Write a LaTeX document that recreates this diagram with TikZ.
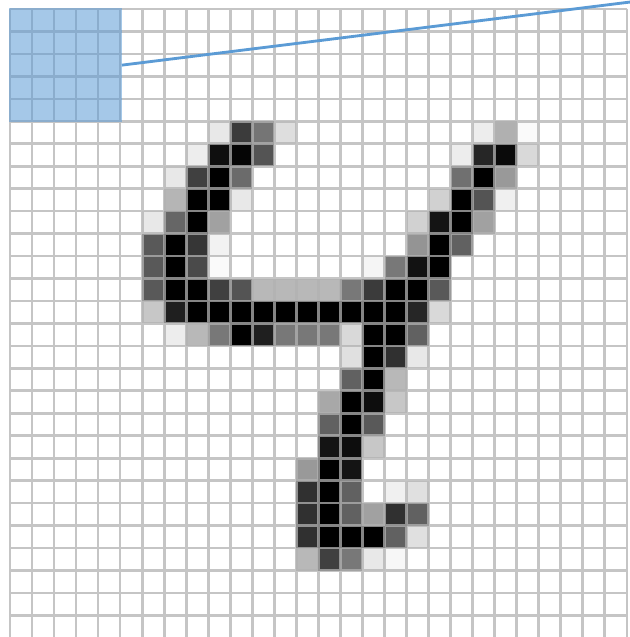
\documentclass[tikz,border=0pt]{standalone}
\usepackage{tikz}
\usepackage{xcolor}
\definecolor{fieldblue}{RGB}{91,155,213}
\definecolor{gridgray}{RGB}{178,178,178}

\begin{document}
\begin{tikzpicture}[>=latex, x=0.6609cm, y=-0.6738cm]
    \useasboundingbox (-0.4539,-0.4007) rectangle (28.143,27.961);

    % Pixels of the digit (column/row/percent black)
    \foreach \c/\r/\k in {9/5/9, 10/5/77, 11/5/54, 12/5/13, 21/5/7, 22/5/31, 23/5/2,
        8/6/7, 9/6/94, 10/6/98, 11/6/67, 20/6/7, 21/6/85, 22/6/96, 23/6/15,
        7/7/9, 8/7/75, 9/7/100, 10/7/58, 20/7/56, 21/7/100, 22/7/40,
        7/8/29, 8/8/100, 9/8/100, 10/8/9, 19/8/18, 20/8/100, 21/8/67, 22/8/6,
        6/9/9, 7/9/60, 8/9/100, 9/9/37, 18/9/18, 19/9/92, 20/9/100, 21/9/37,
        6/10/65, 7/10/100, 8/10/79, 9/10/5, 18/10/42, 19/10/100, 20/10/62,
        6/11/65, 7/11/100, 8/11/71, 9/11/2, 16/11/4, 17/11/53, 18/11/93, 19/11/100,
        6/12/65, 7/12/100, 8/12/100, 9/12/75, 10/12/67, 11/12/28, 12/12/28, 13/12/28,
        14/12/28, 15/12/53, 16/12/77, 17/12/100, 18/12/100, 19/12/65,
        6/13/22, 7/13/88, 8/13/100, 9/13/100, 10/13/100, 11/13/100, 12/13/100, 13/13/100,
        14/13/100, 15/13/100, 16/13/100, 17/13/100, 18/13/85, 19/13/15,
        7/14/7, 8/14/28, 9/14/53, 10/14/100, 11/14/88, 12/14/53, 13/14/53, 14/14/53,
        15/14/15, 16/14/100, 17/14/100, 18/14/62,
        15/15/12, 16/15/100, 17/15/81, 18/15/9,
        15/16/62, 16/16/100, 17/16/28,
        14/17/34, 15/17/100, 16/17/95, 17/17/22,
        14/18/62, 15/18/100, 16/18/65,
        14/19/92, 15/19/95, 16/19/22,
        13/20/40, 14/20/100, 15/20/92,
        13/21/81, 14/21/100, 15/21/62, 17/21/6, 18/21/12,
        13/22/81, 14/22/100, 15/22/62, 16/22/37, 17/22/81, 18/22/62,
        13/23/81, 14/23/100, 15/23/100, 16/23/100, 17/23/62, 18/23/12,
        13/24/28, 14/24/75, 15/24/53, 16/24/9, 17/24/3}
        \fill[black!\k] (\c,\r) rectangle ++(1,1);

    % 28x28 grid
    \draw[gridgray, line width=0.08cm, opacity=0.75]
        \foreach \i in {0,...,28} {(\i,0) -- (\i,28) (0,\i) -- (28,\i)};

    % Receptive field and its connection
    \node[fill=fieldblue, fill opacity=0.55, minimum width=3.39cm, minimum height=3.40cm, inner sep=0pt] (field) at (2.5,2.5) {};
    \coordinate (neuron) at (28.6,-0.365);
    \draw[fieldblue, line width=0.085cm] (field.east) -- (neuron);
\end{tikzpicture}
\end{document}
